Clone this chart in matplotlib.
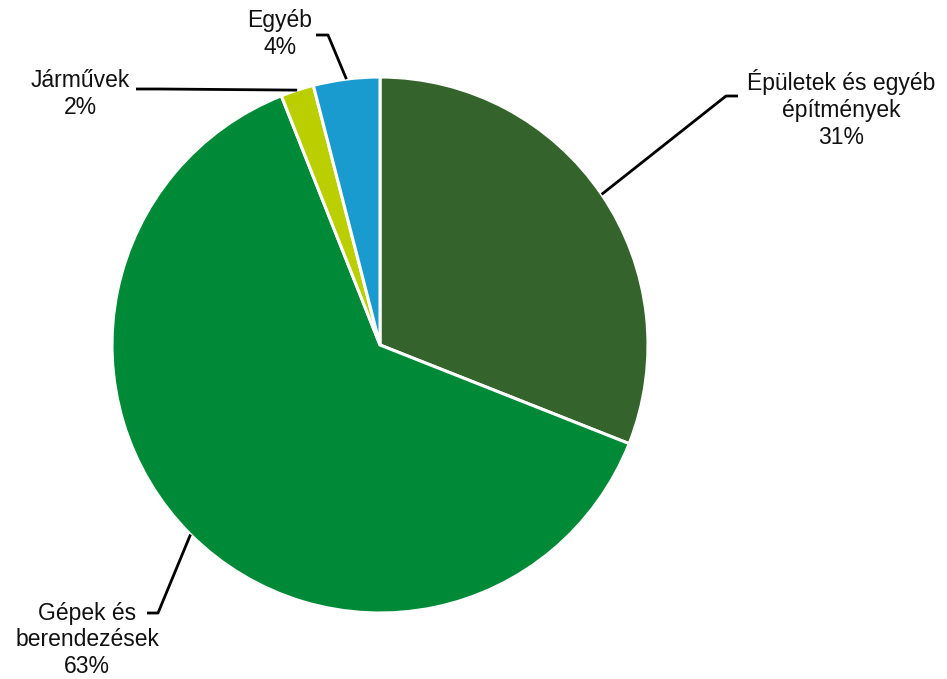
import numpy as np
import matplotlib
matplotlib.use("Agg")
import matplotlib.pyplot as plt

categories = ["Épületek és egyéb\népítmények", "Gépek és\nberendezések", "Járművek", "Egyéb"]
values = [31, 63, 2, 4]
colors = ["#35632C", "#008A37", "#BBCE00", "#1A9BCF"]

W, H = 947, 679
fig = plt.figure(figsize=(W / 100, H / 100), dpi=100)
ax = fig.add_axes([0, 0, 1, 1])

cx, cy, R = 380, H - 345, 268
wedges, _ = ax.pie(values, colors=colors, startangle=90, counterclock=False,
                   center=(cx, cy), radius=R, frame=True,
                   wedgeprops=dict(edgecolor="white", linewidth=2.2))
ax.set_xlim(0, W)
ax.set_ylim(0, H)
ax.set_aspect("equal")
ax.axis("off")

# label layout (pixel coords from top-left): text center, leader start, elbow
layout = [
    dict(text=(841, 109), start=(738, 96), elbow=(726, 96)),
    dict(text=(87, 640), start=(147, 613), elbow=(158, 613)),
    dict(text=(80, 94), start=(136, 89), elbow=(160, 89)),
    dict(text=(280, 34), start=(316, 35), elbow=(328, 35)),
]

for w, cat, val, lay in zip(wedges, categories, values, layout):
    mid = np.deg2rad((w.theta1 + w.theta2) / 2)
    px, py = cx + R * np.cos(mid), cy + R * np.sin(mid)
    sx, sy = lay["start"]
    ex, ey = lay["elbow"]
    ax.plot([sx, ex, px], [H - sy, H - ey, py], color="black", lw=2.0,
            solid_capstyle="butt", zorder=5)
    tx, ty = lay["text"]
    ax.text(tx, H - ty, f"{cat}\n{val}%", ha="center", va="center",
            fontsize=16.5, family="Liberation Sans", color="#111111",
            linespacing=1.22)

fig.savefig("out.png", dpi=100, facecolor="white")
